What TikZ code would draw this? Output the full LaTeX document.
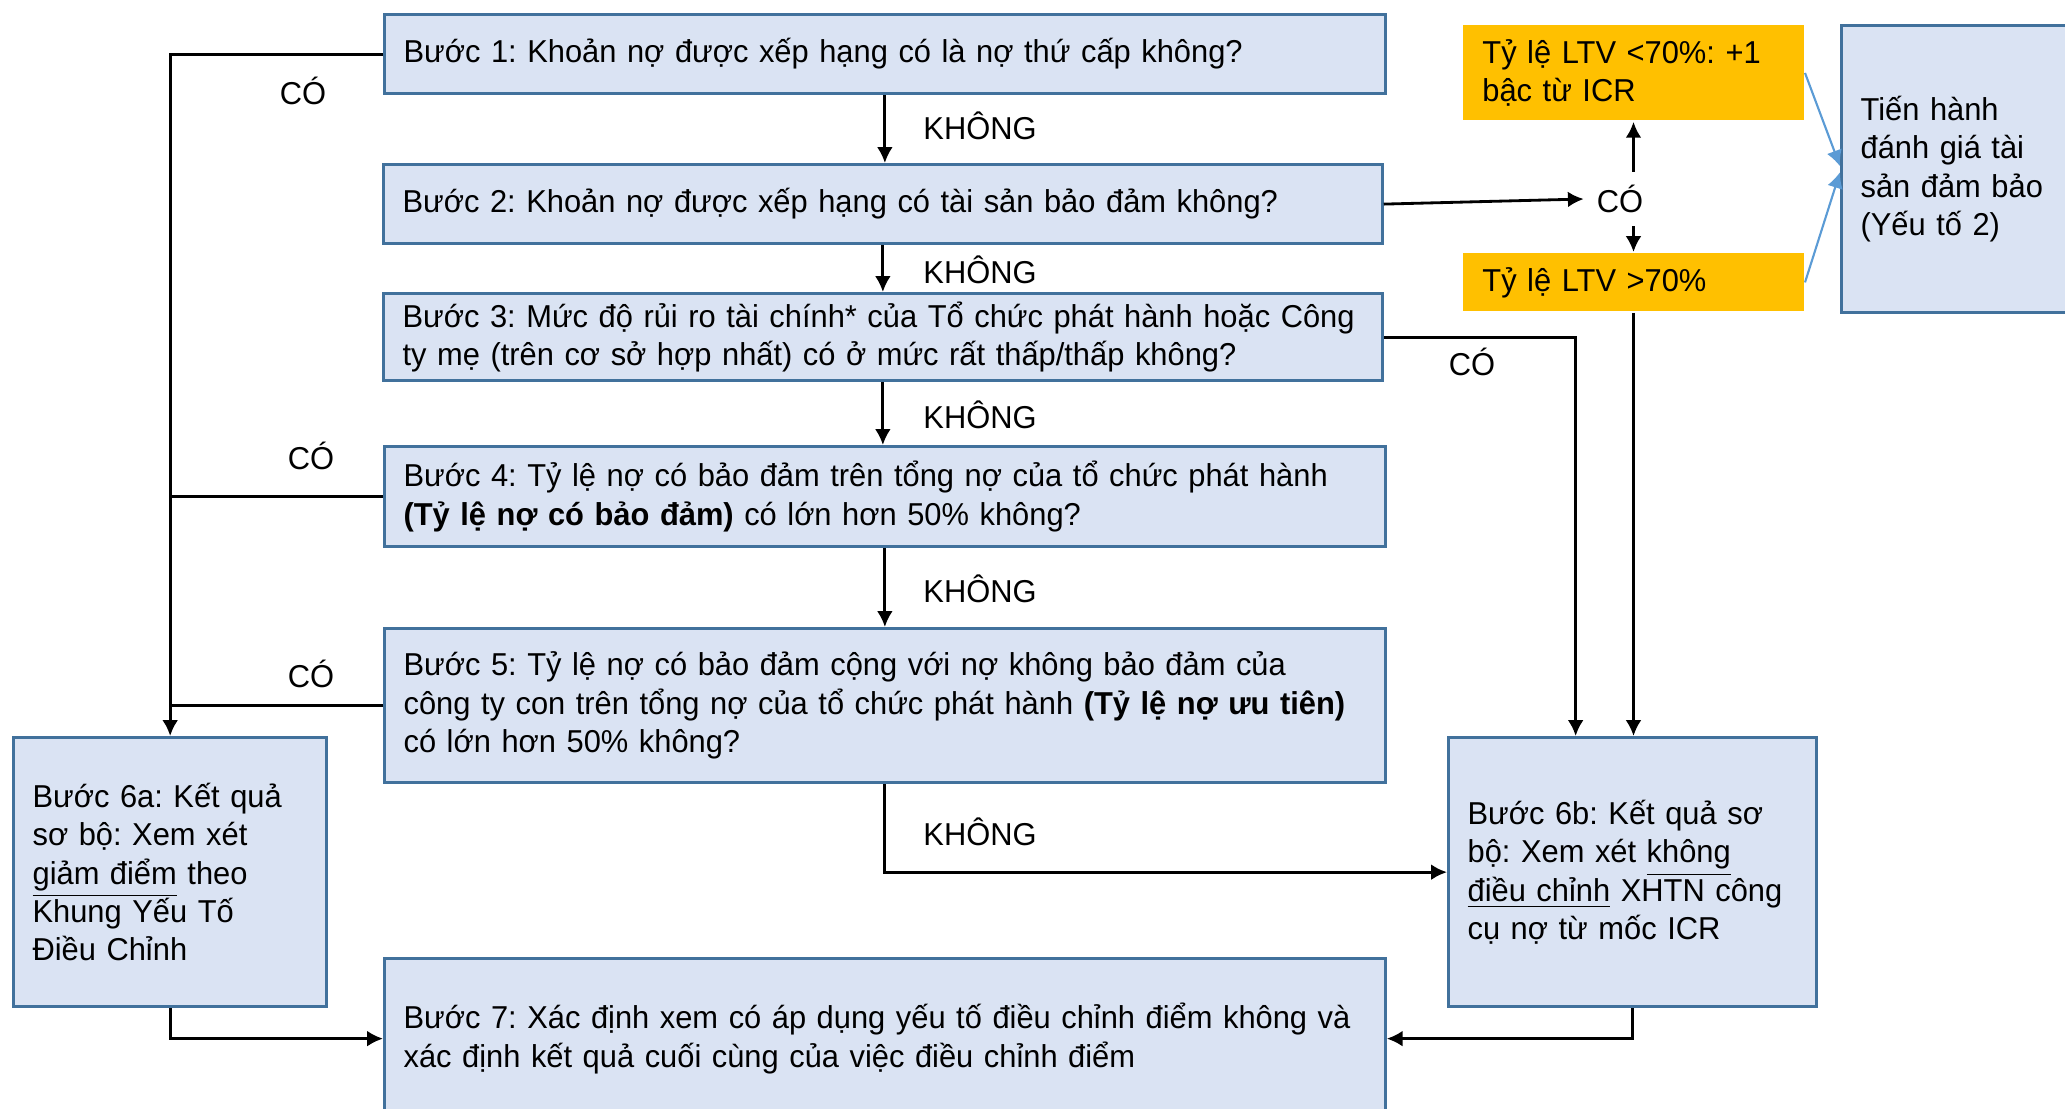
\documentclass[tikz,border=0pt]{standalone}
\usepackage{fontspec}
\setmainfont{Liberation Sans}[FakeStretch=0.975]
\frenchspacing
\usetikzlibrary{arrows.meta}

\definecolor{boxfill}{HTML}{DAE3F3}
\definecolor{boxline}{HTML}{41719C}
\definecolor{ltvfill}{HTML}{FFC000}
\definecolor{linkblue}{HTML}{5B9BD5}

\tikzset{
    stepbox/.style={draw=boxline, fill=boxfill, line width=0.9pt, anchor=north west,
        inner xsep=0.19cm, inner ysep=0pt, align=left, font=\fontsize{9}{10.9}\selectfont},
    ltvbox/.style={fill=ltvfill, anchor=north west,
        inner xsep=0.19cm, inner ysep=0pt, align=left, font=\fontsize{9}{10.9}\selectfont},
    lbl/.style={font=\fontsize{9}{10.9}\selectfont}
}

\begin{document}
\begin{tikzpicture}[x=0.01cm, y=-0.01cm, >={Latex[length=4.5pt,width=4.5pt]}, line width=0.8pt]
    \useasboundingbox (0,0) rectangle (2065,1109);

    % main steps
    \node[stepbox, minimum width=10cm, minimum height=0.79cm, text width=9.62cm] (b1) at (383,13)
        {Bước 1: Khoản nợ được xếp hạng có là nợ thứ cấp không?};
    \node[stepbox, minimum width=9.98cm, minimum height=0.79cm, text width=9.6cm] (b2) at (382,163)
        {Bước 2: Khoản nợ được xếp hạng có tài sản bảo đảm không?};
    \node[stepbox, minimum width=9.98cm, minimum height=0.87cm, text width=9.6cm] (b3) at (382,292)
        {Bước 3: Mức độ rủi ro tài chính* của Tổ chức phát hành hoặc Công\\
         ty mẹ (trên cơ sở hợp nhất) có ở mức rất thấp/thấp không?};
    \node[stepbox, minimum width=10cm, minimum height=1cm, text width=9.62cm] (b4) at (383,445)
        {Bước 4: Tỷ lệ nợ có bảo đảm trên tổng nợ của tổ chức phát hành\\
         \textbf{(Tỷ lệ nợ có bảo đảm)} có lớn hơn 50\% không?};
    \node[stepbox, minimum width=10cm, minimum height=1.54cm, text width=9.62cm] (b5) at (383,627)
        {Bước 5: Tỷ lệ nợ có bảo đảm cộng với nợ không bảo đảm của\\
         công ty con trên tổng nợ của tổ chức phát hành \textbf{(Tỷ lệ nợ ưu tiên)}\\
         có lớn hơn 50\% không?};
    \node[stepbox, minimum width=3.13cm, minimum height=2.69cm, text width=2.75cm] (b6a) at (12,736)
        {Bước 6a: Kết quả\\ sơ bộ: Xem xét\\ \underline{giảm điểm} theo\\ Khung Yếu Tố\\ Điều Chỉnh};
    \node[stepbox, minimum width=3.68cm, minimum height=2.69cm, text width=3.3cm] (b6b) at (1447,736)
        {Bước 6b: Kết quả sơ\\ bộ: Xem xét \underline{không}\\ \underline{điều chỉnh} XHTN công\\ cụ nợ từ mốc ICR};
    \node[stepbox, minimum width=10cm, minimum height=1.6cm, text width=9.62cm] (b7) at (383,957)
        {Bước 7: Xác định xem có áp dụng yếu tố điều chỉnh điểm không và\\
         xác định kết quả cuối cùng của việc điều chỉnh điểm};

    % LTV side
    \node[ltvbox, minimum width=3.4cm, minimum height=0.95cm, text width=3.02cm] (y1) at (1462,24)
        {Tỷ lệ LTV <70\%: +1\\ bậc từ ICR};
    \node[ltvbox, minimum width=3.4cm, minimum height=0.58cm, text width=3.02cm] (y2) at (1462,252)
        {Tỷ lệ LTV >70\%};
    \node[stepbox, minimum width=2.4cm, minimum height=2.87cm, text width=2.02cm] (rb) at (1840,24)
        {Tiến hành\\ đánh giá tài\\ sản đảm bảo\\ (Yếu tố 2)};
    \node[lbl] (co) at (1620,199) {CÓ};

    % labels
    \node[lbl] at (303,91) {CÓ};
    \node[lbl] at (311,456) {CÓ};
    \node[lbl] at (311,674) {CÓ};
    \node[lbl] at (1472,362) {CÓ};
    \foreach \y in {126, 270, 415, 589, 832}
        \node[lbl] at (980,\y) {KHÔNG};

    % connectors
    \draw[->] (b1.south) -- (b1.south |- b2.north);
    \draw[->] (b2.south) -- (b2.south |- b3.north);
    \draw[->] (b3.south) -- (b3.south |- b4.north);
    \draw[->] (b4.south) -- (b4.south |- b5.north);
    \draw[->] (b5.south) |- (b6b.west);

    \draw[->] (b1.west) -| (b6a.north);
    \draw (b4.west) -- (b4.west -| b6a.north);
    \draw (b5.west) -- (b5.west -| b6a.north);

    \draw[->] (b2.east) -- (co.west);
    \draw[->] (co.north -| y1.south) -- (y1.south);
    \draw[->] (co.south -| y2.north) -- (y2.north);
    \draw[->] (y2.south) -- (y2.south |- b6b.north);
    \draw[->] (b3.east) -| ([xshift=-0.57cm]b6b.north);

    \draw[->, linkblue, line width=0.6pt] (y1.east) -- ([yshift=0.03cm]rb.west);
    \draw[->, linkblue, line width=0.6pt] (y2.east) -- ([yshift=-0.03cm]rb.west);

    \draw[->] (b6a.south) |- (b7.west);
    \draw[->] (b6b.south) |- (b7.east);
\end{tikzpicture}
\end{document}
